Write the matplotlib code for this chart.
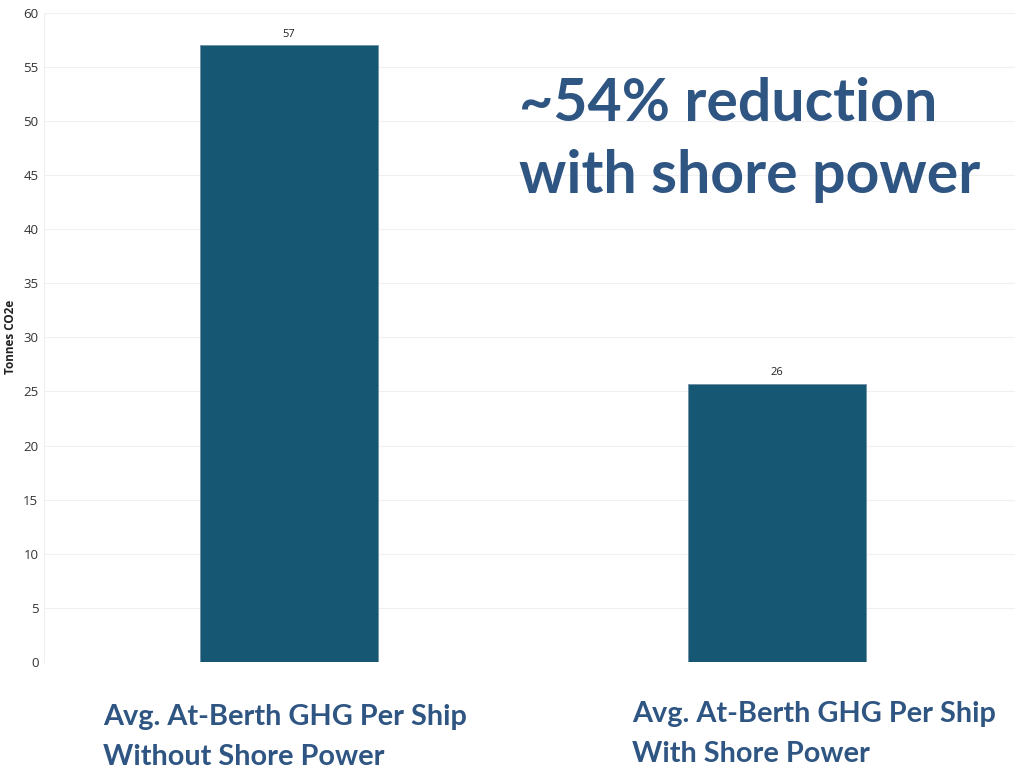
import numpy as np
import matplotlib.pyplot as plt

# Werte (Tonnes CO2e pro Schiff)
categories = ['Avg. At-Berth GHG Per Ship\nWithout Shore Power',
              'Avg. At-Berth GHG Per Ship\nWith Shore Power']
values = [57, 25.7]
value_labels = ['57', '26']
yticks = np.arange(0, 61, 5)

bar_color = '#165873'
text_blue = '#2F5583'

fig = plt.figure(figsize=(10.15, 7.68), dpi=100)
ax = fig.add_axes([0.0433, 0.138, 0.9567, 0.8457])

x = np.arange(len(values))
ax.bar(x, values, width=0.365, color=bar_color, edgecolor='#6f8fa3', linewidth=0.6, zorder=3)

for xi, v, lab in zip(x, values, value_labels):
    ax.text(xi, v + 0.5, lab, ha='center', va='bottom', fontsize=8,
            family='Open Sans', color='#222222')

ax.set_xlim(-0.502, 1.488)
ax.set_ylim(0, 60)
ax.set_yticks(yticks)
ax.set_yticklabels([str(t) for t in yticks], family='Open Sans', fontsize=9.5, color='#333333')
ax.set_xticks([])
ax.grid(axis='y', color='#f0f0f0', linewidth=0.8, zorder=0)
for s in ['top', 'right', 'bottom']:
    ax.spines[s].set_visible(False)
ax.spines['left'].set_color('#f0f0f0')
ax.tick_params(axis='y', length=0, pad=4)
ax.set_ylabel('Tonnes CO2e', family='Open Sans', fontsize=8.5, fontweight='bold',
              color='#222222')
ax.yaxis.set_label_coords(-0.028, 0.5)

# Beschriftungen unter den Balken
fig.text(103 / 1015, 1 - 737 / 768, categories[0], ha='left', va='center',
         fontsize=20.8, fontweight='bold', family='Lato', color=text_blue, linespacing=1.62)
fig.text(632 / 1015, 1 - 734 / 768, categories[1], ha='left', va='center',
         fontsize=20.8, fontweight='bold', family='Lato', color=text_blue, linespacing=1.62)

# Hinweis
fig.text(519 / 1015, 1 - 140 / 768, '~54% reduction\nwith shore power', ha='left', va='center',
         fontsize=42.5, fontweight='bold', family='Lato', color=text_blue, linespacing=1.4)

plt.savefig('out.png', dpi=100)
